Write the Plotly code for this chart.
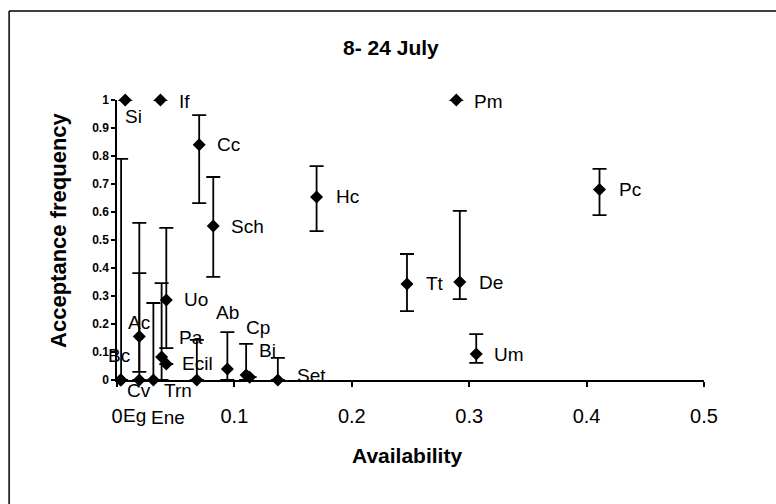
import plotly.graph_objects as go

# Prey species: availability (x), acceptance frequency (y) and error bars
species = ["Bc", "Eg", "Si", "Cv", "Ac", "Trn", "If", "Pa", "Uo", "Ecil", "Ene",
           "Cc", "Sch", "Ab", "Cp", "Bi", "Set", "Hc", "Tt", "Pm", "De", "Um", "Pc"]
availability = [0.0035, 0.003, 0.007, 0.019, 0.019, 0.031, 0.037, 0.038, 0.042, 0.042, 0.068,
                0.070, 0.082, 0.094, 0.110, 0.113, 0.137, 0.170, 0.247, 0.289, 0.292, 0.306, 0.411]
acceptance = [0.0, 0.0, 1.0, 0.0, 0.155, 0.0, 1.0, 0.082, 0.286, 0.057, 0.0,
              0.84, 0.55, 0.039, 0.018, 0.01, 0.0, 0.654, 0.343, 1.0, 0.35, 0.093, 0.68]
err_plus = [0.79, None, None, 0.382, 0.406, 0.275, None, 0.264, 0.257, None, 0.143,
            0.106, 0.175, 0.132, 0.111, None, 0.079, 0.11, 0.107, None, 0.254, 0.071, 0.074]
err_minus = [0.0, None, None, 0.0, 0.126, 0.0, None, 0.082, 0.172, None, 0.0,
             0.208, 0.182, 0.039, 0.018, None, 0.0, 0.122, 0.097, None, 0.061, 0.032, 0.091]

# Label placement per species: anchor, pixel shift right, pixel shift down
label_place = {
    "Bc": ("center", -2, -25), "Eg": ("center", 14, 35), "Si": ("left", -2, 16),
    "Cv": ("center", 0, 10), "Ac": ("center", 0, -14), "Trn": ("left", 9, 10),
    "If": ("left", 17, 1), "Pa": ("left", 15, -20), "Uo": ("left", 16, 0),
    "Ecil": ("left", 14, -1), "Ene": ("center", -29, 37), "Cc": ("left", 16, 0),
    "Sch": ("left", 16, 0), "Ab": ("center", 0, -57), "Cp": ("left", -2, -47),
    "Bi": ("left", 7, -27), "Set": ("left", 17, -5), "Hc": ("left", 17, 0),
    "Tt": ("left", 17, 0), "Pm": ("left", 16, 1), "De": ("left", 17, 0),
    "Um": ("left", 16, 1), "Pc": ("left", 17, 0),
}

FONT = "Liberation Sans, Arial, sans-serif"

fig = go.Figure()
fig.add_trace(go.Scatter(
    x=availability, y=acceptance, mode="markers",
    marker=dict(symbol="diamond", size=10, color="black"),
    error_y=dict(type="data", array=err_plus, arrayminus=err_minus,
                 symmetric=False, color="black", thickness=1.8, width=7),
    cliponaxis=False, showlegend=False,
))

annotations = []
for name, xv, yv in zip(species, availability, acceptance):
    anchor, dx, dy = label_place[name]
    annotations.append(dict(
        x=xv, y=yv, xref="x", yref="y", text=name, showarrow=False,
        xanchor=anchor, yanchor="middle", xshift=dx, yshift=-dy,
        font=dict(family=FONT, size=19, color="black"),
    ))

annotations += [
    dict(text="8- 24 July", xref="paper", yref="paper", x=0.4668, y=1.189,
         showarrow=False, xanchor="center", yanchor="middle",
         font=dict(family=FONT, size=21, color="black", weight="bold")),
    dict(text="Acceptance frequency", xref="paper", yref="paper", x=-0.0988, y=0.536,
         showarrow=False, textangle=-90, xanchor="center", yanchor="middle",
         font=dict(family=FONT, size=22, color="black", weight="bold")),
    dict(text="Availability", xref="paper", yref="paper", x=0.494, y=-0.268,
         showarrow=False, xanchor="center", yanchor="middle",
         font=dict(family=FONT, size=21, color="black", weight="bold")),
]

fig.update_layout(
    width=776, height=504, autosize=False,
    margin=dict(l=117, r=72, t=100, b=124, pad=0),
    paper_bgcolor="white", plot_bgcolor="white",
    annotations=annotations,
    shapes=[
        dict(type="line", xref="paper", yref="paper", x0=-0.1838, x1=1.13, y0=1.318, y1=1.318,
             line=dict(color="black", width=1.5)),
        dict(type="line", xref="paper", yref="paper", x0=-0.1838, x1=-0.1838, y0=1.318, y1=-0.45,
             line=dict(color="black", width=1.5)),
    ],
    xaxis=dict(range=[0, 0.5], dtick=0.1, tick0=0, showgrid=False, zeroline=False,
               showline=True, linecolor="black", linewidth=2,
               ticks="outside", ticklen=5, tickwidth=1.5, tickcolor="black",
               ticklabelstandoff=12,
               tickfont=dict(family=FONT, size=20, color="black")),
    yaxis=dict(range=[0, 1], dtick=0.1, tick0=0, showgrid=False, zeroline=False,
               showline=True, linecolor="black", linewidth=1.5,
               ticks="outside", ticklen=4, tickwidth=1.5, tickcolor="black",
               tickfont=dict(family=FONT, size=12, color="black", weight="bold")),
)

fig.write_html("out.html")
